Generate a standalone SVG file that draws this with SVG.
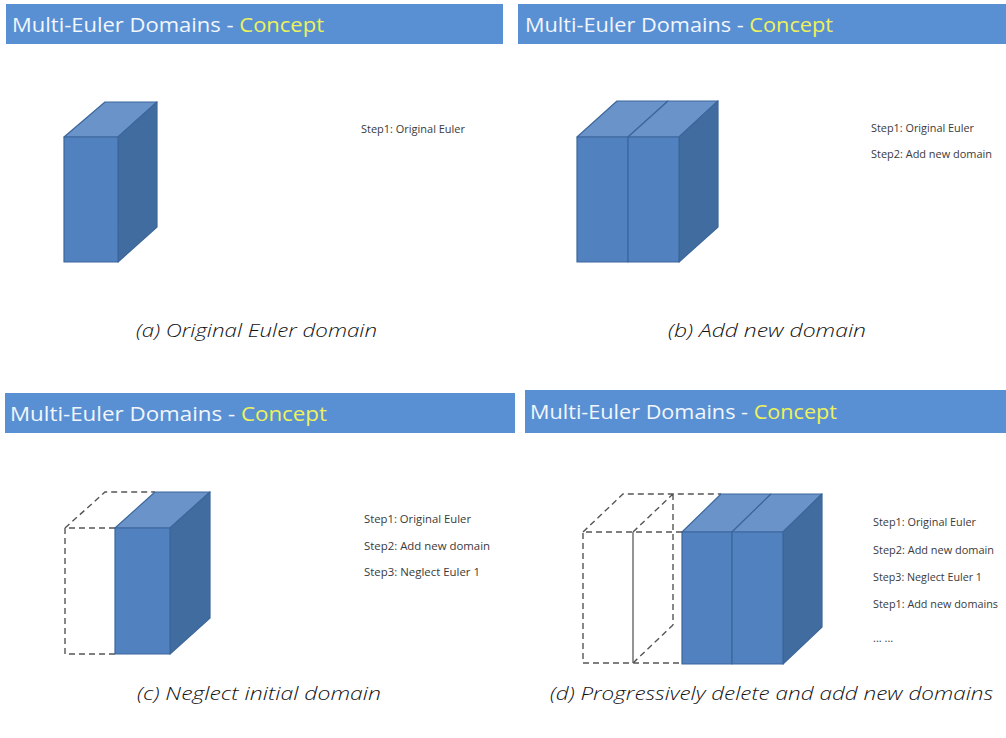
<svg xmlns="http://www.w3.org/2000/svg" width="1006" height="738" viewBox="0 0 1006 738">
  <style>
    .bar { fill: #5990d4; }
    .title { font-family: "Open Sans", "Liberation Sans", sans-serif; font-size: 20px; fill: #f2f6fb; }
    .accent { fill: #eef25a; }
    .step { font-family: "Open Sans", "Liberation Sans", sans-serif; font-size: 11px; fill: #3a3a3a; }
    .cap { font-family: "Open Sans", "DejaVu Sans", sans-serif; font-style: italic; font-weight: 300; font-size: 19px; fill: #111; }
    .front { fill: #5181be; stroke: #3c679c; stroke-width: 1.2; stroke-linejoin: round; }
    .top { fill: #6a94c9; stroke: #3c679c; stroke-width: 1.2; stroke-linejoin: round; }
    .side { fill: #416c9f; stroke: #3c679c; stroke-width: 1.2; stroke-linejoin: round; }
    .ghost { fill: none; stroke: #555; stroke-width: 1.4; stroke-dasharray: 6 4; }
    .edge { fill: none; stroke: #666; stroke-width: 1.4; }
  </style>

  <!-- panel a: single domain -->
  <g id="panel-a">
    <rect class="bar" x="6" y="4" width="497" height="40"/>
    <text class="title" x="12" y="32" textLength="312" lengthAdjust="spacingAndGlyphs">Multi-Euler Domains - <tspan class="accent">Concept</tspan></text>
    <g id="cube-a">
      <polygon class="top" points="64,137 105,102 157,102 118,137"/>
      <polygon class="side" points="118,137 157,102 157,227 118,262"/>
      <rect class="front" x="64" y="137" width="54" height="125"/>
    </g>
    <text class="step" x="361" y="133" textLength="104" lengthAdjust="spacingAndGlyphs">Step1: Original Euler</text>
    <text class="cap" x="136" y="337" textLength="241" lengthAdjust="spacingAndGlyphs">(a) Original Euler domain</text>
  </g>

  <!-- panel b: second domain appended -->
  <g id="panel-b">
    <rect class="bar" x="518" y="4" width="488" height="40"/>
    <text class="title" x="525" y="32" textLength="308" lengthAdjust="spacingAndGlyphs">Multi-Euler Domains - <tspan class="accent">Concept</tspan></text>
    <g id="cube-b">
      <polygon class="top" points="577,137 617,101 668,101 628,137"/>
      <polygon class="top" points="628,137 668,101 718,101 679,137"/>
      <polygon class="side" points="679,137 718,101 718,227 679,262"/>
      <rect class="front" x="577" y="137" width="51" height="125"/>
      <rect class="front" x="628" y="137" width="51" height="125"/>
    </g>
    <text class="step" x="871" y="132" textLength="103" lengthAdjust="spacingAndGlyphs">Step1: Original Euler</text>
    <text class="step" x="871" y="158" textLength="121" lengthAdjust="spacingAndGlyphs">Step2: Add new domain</text>
    <text class="cap" x="668" y="337" textLength="198" lengthAdjust="spacingAndGlyphs">(b) Add new domain</text>
  </g>

  <!-- panel c: first domain neglected -->
  <g id="panel-c">
    <rect class="bar" x="5" y="393" width="510" height="40"/>
    <text class="title" x="10" y="421" textLength="317" lengthAdjust="spacingAndGlyphs">Multi-Euler Domains - <tspan class="accent">Concept</tspan></text>
    <g id="cube-c">
      <path class="ghost" d="M115,528 H65 V654 H115 M65,528 L105,492 H155"/>
      <polygon class="top" points="115,528 155,492 210,492 170,528"/>
      <polygon class="side" points="170,528 210,492 210,618 170,654"/>
      <rect class="front" x="115" y="528" width="55" height="126"/>
    </g>
    <text class="step" x="364" y="523" textLength="107" lengthAdjust="spacingAndGlyphs">Step1: Original Euler</text>
    <text class="step" x="364" y="550" textLength="126" lengthAdjust="spacingAndGlyphs">Step2: Add new domain</text>
    <text class="step" x="364" y="576" textLength="116" lengthAdjust="spacingAndGlyphs">Step3: Neglect Euler 1</text>
    <text class="cap" x="137" y="700" textLength="244" lengthAdjust="spacingAndGlyphs">(c) Neglect initial domain</text>
  </g>

  <!-- panel d: domains removed behind, added in front -->
  <g id="panel-d">
    <rect class="bar" x="525" y="390" width="481" height="43"/>
    <text class="title" x="530" y="419" textLength="307" lengthAdjust="spacingAndGlyphs">Multi-Euler Domains - <tspan class="accent">Concept</tspan></text>
    <g id="cube-d">
      <path class="ghost" d="M682,532 H583 V663 H682 M583,532 L623,494 H721 M633,532 L673,494 M673,494 V625 M633,663 L673,625"/>
      <line class="edge" x1="633" y1="532" x2="633" y2="663"/>
      <polygon class="top" points="682,532 721,494 771,494 732,532"/>
      <polygon class="top" points="732,532 771,494 822,494 783,532"/>
      <polygon class="side" points="783,532 822,494 822,627 783,664"/>
      <rect class="front" x="682" y="532" width="50" height="132"/>
      <rect class="front" x="732" y="532" width="51" height="132"/>
    </g>
    <text class="step" x="873" y="526" textLength="103" lengthAdjust="spacingAndGlyphs">Step1: Original Euler</text>
    <text class="step" x="873" y="554" textLength="121" lengthAdjust="spacingAndGlyphs">Step2: Add new domain</text>
    <text class="step" x="873" y="581" textLength="109" lengthAdjust="spacingAndGlyphs">Step3: Neglect Euler 1</text>
    <text class="step" x="873" y="608" textLength="125" lengthAdjust="spacingAndGlyphs">Step1: Add new domains</text>
    <text class="step" x="873" y="642">... ...</text>
    <text class="cap" x="550" y="700" textLength="443" lengthAdjust="spacingAndGlyphs">(d) Progressively delete and add new domains</text>
  </g>
</svg>
